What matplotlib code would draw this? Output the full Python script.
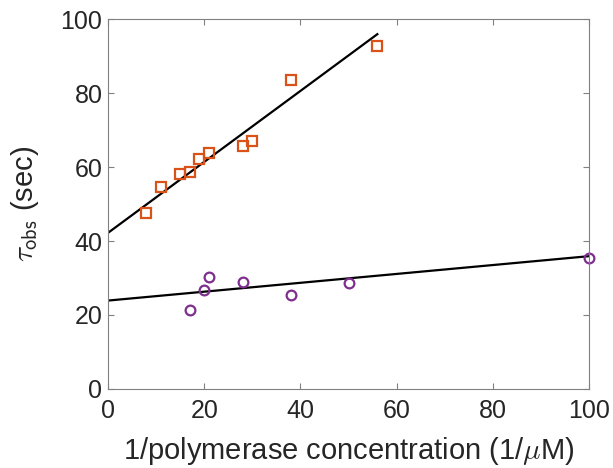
import matplotlib
matplotlib.use("Agg")
import matplotlib.pyplot as plt
import numpy as np

plt.rcParams['font.family'] = ['Liberation Sans', 'DejaVu Sans']
plt.rcParams['mathtext.fontset'] = 'cm'

# Orange (squares) series
sq_x = [8, 11, 15, 17, 19, 21, 28, 30, 38, 56]
sq_y = [47.6, 54.5, 58.0, 58.6, 62.2, 63.8, 65.7, 67.1, 83.5, 92.7]
sq_fit_x = [0, 56]
sq_fit_y = [42.2, 95.9]

# Purple (circles) series
ci_x = [17, 20, 21, 28, 38, 50, 100]
ci_y = [21.3, 26.8, 30.2, 28.9, 25.5, 28.6, 35.5]
ci_fit_x = [0, 100]
ci_fit_y = [23.9, 35.9]

xticks = [0, 20, 40, 60, 80, 100]
yticks = [0, 20, 40, 60, 80, 100]

fig = plt.figure(figsize=(6.13, 4.68), dpi=100)
ax = fig.add_axes([108/613, 1-389/468, 481/613, 370/468])

ax.plot(sq_fit_x, sq_fit_y, color='black', lw=1.6)
ax.plot(ci_fit_x, ci_fit_y, color='black', lw=1.6)
ax.plot(sq_x, sq_y, linestyle='none', marker='s', markersize=6.5,
        markerfacecolor='none', markeredgecolor='#D95319', markeredgewidth=1.6, clip_on=False)
ax.plot(ci_x, ci_y, linestyle='none', marker='o', markersize=7,
        markerfacecolor='none', markeredgecolor='#7E2F8E', markeredgewidth=1.6, clip_on=False)

ax.set_xlim(0, 100)
ax.set_ylim(0, 100)
ax.set_xticks(xticks)
ax.set_yticks(yticks)
ax.tick_params(direction='in', length=4, width=0.8, colors='#808080',
               labelcolor='#262626', labelsize=18, top=True, right=True)
ax.tick_params(axis='x', pad=7.5)
ax.tick_params(axis='y', pad=4)
for s in ax.spines.values():
    s.set_color('#808080')
    s.set_linewidth(0.8)

ax.set_xlabel(r'1/polymerase concentration (1/$\mu$M)', fontsize=21, color='#262626', labelpad=8)
ax.set_ylabel(r'$\tau_{\mathsf{obs}}$ (sec)', fontsize=21, color='#262626', labelpad=14)

fig.savefig('out.png', dpi=100)
